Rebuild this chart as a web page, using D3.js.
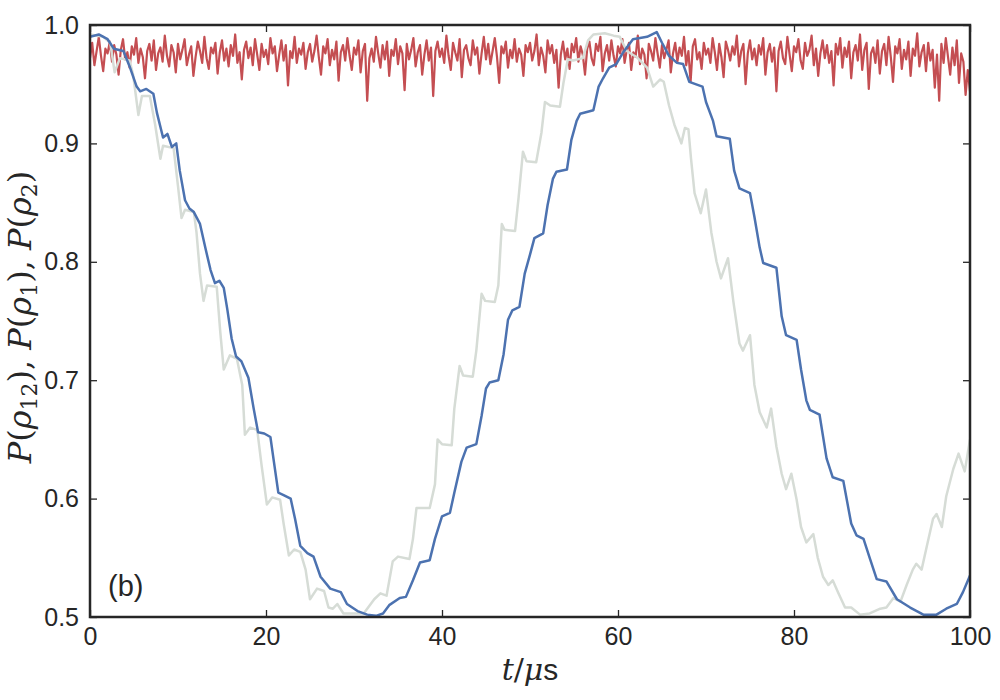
<!DOCTYPE html>
<html>
<head>
<meta charset="utf-8">
<script src="https://cdn.jsdelivr.net/npm/d3@7"></script>
<style>
  body { margin: 0; background: #fff; }
  svg { display: block; }
  .tick text { font-family: "Liberation Sans", Arial, sans-serif; font-size: 25px; fill: #262626; }
</style>
</head>
<body>
<svg id="chart" width="1000" height="700"></svg>
<script>
// tick values
const xTicks = [0, 20, 40, 60, 80, 100];
const yTicks = [0.5, 0.6, 0.7, 0.8, 0.9, 1.0];

// P(rho_12) : red, sampled every 0.25 us (one row = 5 us)
const redP = [
  .972,.985,.966,.978,.990,.974,.961,.980,.976,.986,.969,.983,.975,.958,.979,.988,.971,.977,.964,.982,
  .975,.989,.968,.980,.973,.955,.978,.984,.970,.987,.962,.976,.981,.969,.991,.974,.965,.983,.977,.960,
  .984,.971,.979,.988,.966,.975,.982,.957,.973,.986,.978,.968,.990,.972,.963,.981,.976,.985,.959,.977,
  .987,.970,.980,.965,.983,.974,.992,.968,.977,.954,.979,.986,.972,.981,.966,.988,.975,.962,.984,.973,
  .979,.967,.989,.976,.982,.961,.975,.987,.970,.983,.949,.978,.972,.990,.968,.980,.975,.985,.963,.977,
  .984,.969,.978,.991,.973,.958,.982,.976,.988,.966,.979,.971,.986,.953,.977,.983,.970,.989,.974,.962,
  .981,.975,.987,.960,.978,.984,.936,.972,.980,.969,.990,.976,.964,.983,.971,.986,.957,.979,.974,.988,
  .967,.982,.976,.945,.984,.971,.979,.989,.965,.977,.983,.958,.975,.987,.970,.981,.940,.978,.986,.973,
  .980,.968,.991,.974,.962,.985,.977,.970,.988,.956,.979,.983,.972,.966,.987,.975,.981,.959,.976,.990,
  .971,.984,.967,.978,.989,.973,.951,.982,.976,.986,.964,.979,.972,.988,.969,.980,.975,.957,.983,.977,
  .985,.970,.978,.992,.966,.981,.974,.960,.987,.976,.983,.968,.979,.947,.975,.986,.971,.980,.963,.984,
  .977,.989,.969,.982,.975,.958,.980,.986,.972,.966,.984,.978,.990,.961,.976,.983,.970,.987,.974,.965,
  .982,.976,.988,.968,.979,.985,.962,.977,.973,.991,.967,.980,.975,.955,.984,.978,.970,.989,.976,.964,
  .983,.972,.979,.987,.960,.976,.985,.969,.981,.974,.990,.966,.978,.952,.982,.988,.971,.977,.963,.985,
  .975,.980,.968,.989,.977,.962,.984,.973,.956,.986,.979,.970,.982,.975,.991,.965,.978,.984,.950,.976,
  .987,.971,.980,.966,.983,.975,.989,.958,.977,.984,.969,.981,.944,.978,.986,.972,.967,.990,.975,.961,
  .982,.977,.988,.970,.963,.985,.974,.979,.991,.966,.980,.957,.976,.987,.972,.983,.968,.978,.949,.984,
  .975,.989,.964,.981,.973,.986,.955,.977,.983,.970,.992,.962,.979,.985,.946,.976,.981,.968,.987,.959,
  .978,.984,.966,.990,.973,.952,.982,.976,.988,.963,.979,.971,.986,.957,.980,.974,.993,.965,.977,.983,
  .961,.985,.970,.979,.947,.975,.936,.984,.968,.989,.973,.958,.981,.966,.987,.951,.976,.969,.941,.962,
  .944
];
const redStep = 0.25;

// P(rho_1) : blue
const blueT = [0,1,2,2.7,3.8,4.5,5.3,5.7,6.4,7.2,7.6,8.3,8.8,9.3,9.8,10.2,10.8,11.3,11.8,12.5,13.1,13.7,14.2,14.7,15.2,15.6,16.1,16.6,17.2,18,18.6,19.1,19.8,20.5,20.9,21.4,22,22.8,23.3,23.9,24.7,25.4,26.2,27.3,28.5,29.2,30.4,31.5,32.5,33.3,34,35.2,35.9,36.7,37.5,38.6,39.2,40,40.9,41.4,42.2,42.8,43.9,44.5,45,45.4,46.4,47,47.5,48,48.8,49.4,50,50.5,51.5,52,52.6,53,54.2,54.7,55.3,55.7,57.2,57.8,58.3,59,59.8,60.6,61.7,63.3,64.4,65,65.8,66.7,67.4,68.1,69.6,70,70.8,71.2,72.7,73.2,73.8,75,75.5,76.1,76.5,78,78.6,79.1,80.3,80.8,81.4,81.8,82.9,83.7,84.4,85.6,86.5,87.1,87.9,88.6,89.4,90.5,91.7,93.2,94.7,96.2,97.3,98.5,99.2,100];
const blueP = [0.99,0.992,0.988,0.98,0.978,0.965,0.948,0.944,0.946,0.942,0.926,0.905,0.908,0.897,0.9,0.877,0.852,0.845,0.842,0.832,0.812,0.793,0.782,0.784,0.778,0.76,0.735,0.72,0.716,0.702,0.676,0.656,0.655,0.652,0.631,0.605,0.603,0.6,0.583,0.56,0.554,0.551,0.534,0.524,0.521,0.511,0.505,0.502,0.501,0.503,0.51,0.516,0.517,0.531,0.546,0.548,0.566,0.585,0.588,0.605,0.631,0.643,0.646,0.67,0.693,0.698,0.7,0.722,0.751,0.759,0.762,0.79,0.806,0.82,0.824,0.848,0.87,0.876,0.878,0.903,0.919,0.925,0.928,0.948,0.955,0.964,0.967,0.977,0.988,0.99,0.994,0.985,0.974,0.968,0.967,0.952,0.948,0.935,0.919,0.906,0.904,0.877,0.862,0.858,0.838,0.812,0.799,0.795,0.754,0.738,0.734,0.709,0.683,0.675,0.671,0.634,0.618,0.615,0.579,0.569,0.566,0.55,0.532,0.53,0.515,0.508,0.502,0.502,0.507,0.511,0.521,0.535];

// P(rho_2) : light grey
const grayT = [0,1.5,2.3,2.8,3.4,4.5,4.9,5.5,5.9,6.8,7.4,8,8.3,9.5,10,10.4,10.8,11.8,12.1,12.5,12.9,13.3,14.4,14.8,15.2,15.9,16.7,17.3,17.6,18.2,19,19.5,20.1,20.7,21.6,22,22.6,23.2,23.9,24.5,25,25.8,26.6,27.1,27.6,28.1,28.8,30,31.1,32.3,33,33.7,34.4,35,36.3,36.7,37.1,38.6,39.2,39.5,40,41.1,41.4,42,42.4,43.5,43.9,44.5,44.9,46,46.4,46.8,47.1,48.3,48.7,49.2,49.6,50.7,51.3,51.7,52.3,53.4,53.8,54.3,54.9,56,56.6,57.2,58.5,59.5,60.2,61,62.1,63.3,64,64.8,65.2,65.8,66.4,67.2,67.6,68,68.3,68.7,69.4,70,70.6,71.2,71.7,72.5,73.1,73.8,74.2,75,75.5,76.1,76.9,77.4,78,78.6,79.1,79.7,80.3,80.8,81.4,82.2,82.7,83.3,83.9,84.4,85,85.8,86.5,87.5,88.6,89.8,90.5,91.3,92.1,92.8,93.5,93.9,94.5,95.1,95.8,96.2,96.8,97.3,98.1,98.7,99.4,100];
const grayP = [0.992,0.99,0.985,0.96,0.972,0.97,0.958,0.924,0.94,0.94,0.916,0.887,0.898,0.896,0.864,0.837,0.844,0.842,0.825,0.79,0.767,0.78,0.779,0.741,0.709,0.721,0.718,0.696,0.654,0.66,0.658,0.628,0.595,0.601,0.599,0.579,0.552,0.557,0.555,0.54,0.515,0.524,0.522,0.508,0.507,0.511,0.503,0.503,0.503,0.515,0.52,0.518,0.547,0.551,0.549,0.566,0.592,0.592,0.612,0.65,0.646,0.645,0.676,0.712,0.704,0.703,0.725,0.773,0.767,0.766,0.78,0.832,0.827,0.826,0.854,0.893,0.885,0.884,0.909,0.935,0.932,0.931,0.951,0.971,0.97,0.972,0.987,0.992,0.993,0.991,0.99,0.978,0.973,0.964,0.948,0.954,0.952,0.932,0.916,0.9,0.913,0.912,0.887,0.858,0.841,0.861,0.825,0.8,0.786,0.803,0.767,0.731,0.725,0.738,0.696,0.673,0.66,0.676,0.644,0.621,0.608,0.621,0.599,0.576,0.563,0.57,0.55,0.534,0.527,0.531,0.521,0.508,0.508,0.502,0.503,0.507,0.508,0.516,0.513,0.527,0.54,0.545,0.54,0.56,0.583,0.587,0.576,0.602,0.625,0.638,0.623,0.65];

const svg = d3.select("#chart");
const margin = {left: 90, right: 30, top: 25, bottom: 83};
const W = 1000 - margin.left - margin.right,
      H = 700 - margin.top - margin.bottom;

const x = d3.scaleLinear().domain([0, 100]).range([0, W]);
const y = d3.scaleLinear().domain([0.5, 1.0]).range([H, 0]);

const g = svg.append("g").attr("transform", `translate(${margin.left},${margin.top})`);

g.append("clipPath").attr("id", "clip")
  .append("rect").attr("width", W).attr("height", H);

let line = d3.line().x(d => x(d[0])).y(d => y(d[1]));

let red = redP.map((v, i) => [i * redStep, v]);
let blue = blueT.map((t, i) => [t, blueP[i]]);
let gray = grayT.map((t, i) => [t, grayP[i]]);

const plot = g.append("g").attr("clip-path", "url(#clip)");
plot.append("path").datum(red).attr("d", line)
    .attr("fill", "none").attr("stroke", "#c44e52").attr("stroke-width", 2.2).attr("stroke-linejoin", "round");
plot.append("path").datum(gray).attr("d", line)
    .attr("fill", "none").attr("stroke", "#d6dcd6").attr("stroke-width", 2.5).attr("stroke-linejoin", "round");
plot.append("path").datum(blue).attr("d", line)
    .attr("fill", "none").attr("stroke", "#4c72b0").attr("stroke-width", 2.5).attr("stroke-linejoin", "round");

// axes, ticks inward on all four sides
const fmtY = d3.format(".1f");
let axB = g.append("g").attr("transform", `translate(0,${H})`)
  .call(d3.axisBottom(x).tickValues(xTicks).tickSizeInner(-7).tickSizeOuter(0).tickPadding(10));
let axT = g.append("g")
  .call(d3.axisTop(x).tickValues(xTicks).tickSizeInner(-7).tickSizeOuter(0).tickFormat(""));
let axL = g.append("g")
  .call(d3.axisLeft(y).tickValues(yTicks).tickFormat(fmtY).tickSizeInner(-7).tickSizeOuter(0).tickPadding(11));
let axR = g.append("g").attr("transform", `translate(${W},0)`)
  .call(d3.axisRight(y).tickValues(yTicks).tickSizeInner(-7).tickSizeOuter(0).tickFormat(""));

[axB, axT, axL, axR].forEach(a => {
  a.select(".domain").remove();
  a.selectAll(".tick line").attr("stroke", "#262626").attr("stroke-width", 1.3);
});

// frame
g.append("rect").attr("width", W).attr("height", H)
  .attr("fill", "none").attr("stroke", "#262626").attr("stroke-width", 2.5);

// panel label
g.append("text").attr("x", 18).attr("y", H - 21)
  .style("font-family", "Liberation Sans, Arial, sans-serif").style("font-size", "29px").attr("fill", "#262626")
  .text("(b)");

// x label  t/μs
let xl = svg.append("text").attr("x", 90 + W / 2).attr("y", 680).attr("text-anchor", "middle")
  .attr("fill", "#262626").style("font-size", "30px");
xl.append("tspan").style("font-family", "DejaVu Serif").style("font-style", "italic").text("t");
xl.append("tspan").style("font-family", "DejaVu Serif").text("/");
xl.append("tspan").style("font-family", "DejaVu Serif").style("font-style", "italic").text("μ");
xl.append("tspan").style("font-family", "Liberation Sans, Arial, sans-serif").text("s");

// y label  P(ρ12), P(ρ1), P(ρ2)
let yl = svg.append("text").attr("transform", `translate(31,${margin.top + H / 2 - 4}) rotate(-90)`)
  .attr("text-anchor", "middle").attr("fill", "#262626")
  .style("font-family", "DejaVu Serif").style("font-size", "32px");
const parts = [["12", ", "], ["1", ", "], ["2", ""]];
parts.forEach(p => {
  yl.append("tspan").style("font-style", "italic").text("P");
  yl.append("tspan").text("(");
  yl.append("tspan").style("font-style", "italic").text("ρ");
  yl.append("tspan").attr("baseline-shift", "-25%").style("font-size", "22px").text(p[0]);
  yl.append("tspan").text(")" + p[1]);
});
</script>
</body>
</html>
